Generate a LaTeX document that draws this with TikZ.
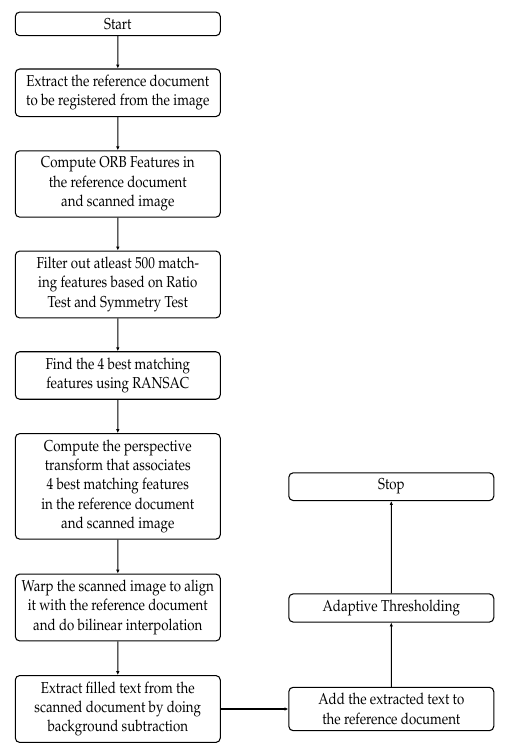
\documentclass[tikz,border=0pt]{standalone}
\usepackage[T1]{fontenc}
\usepackage{mathpazo}
\usetikzlibrary{arrows.meta}

\begin{document}
\begin{tikzpicture}[x=0.2mm, y=0.2mm,
	stepbox/.style={draw, semithick, rounded corners=2.5pt, align=center, xscale=0.84, minimum width=4.88cm, inner ysep=3.5pt, font=\fontsize{9}{11}\selectfont},
	flow/.style={semithick, -{Latex[length=2.2pt,width=2pt]}}]
	\useasboundingbox (0,0) rectangle (517,755);
	\node[stepbox] (start) at (117.8,731.1) {Start};
	\node[stepbox] (extract) at (117.8,662.2) {Extract the reference document\\to be registered from the image};
	\node[stepbox] (orb) at (117.8,571) {Compute ORB Features in\\the reference document\\and scanned image};
	\node[stepbox] (filter) at (117.8,470.5) {Filter out atleast 500 match-\\ing features based on Ratio\\Test and Symmetry Test};
	\node[stepbox] (ransac) at (117.8,379.5) {Find the 4 best matching\\features using RANSAC};
	\node[stepbox] (persp) at (117.8,268.6) {Compute the perspective\\transform that associates\\4 best matching features\\in the reference document\\and scanned image};
	\node[stepbox] (warp) at (117.8,147.5) {Warp the scanned image to align\\it with the reference document\\and do bilinear interpolation};
	\node[stepbox] (filled) at (117.8,46) {Extract filled text from the\\scanned document by doing\\background subtraction};
	\node[stepbox] (add) at (391.3,46) {Add the extracted text to\\the reference document};
	\node[stepbox] (adapt) at (391.3,147) {Adaptive Thresholding};
	\node[stepbox] (stop) at (391.3,268.3) {Stop};

	\draw[flow] (start) edge (extract);
	\draw[flow] (extract) edge (orb);
	\draw[flow] (orb) edge (filter);
	\draw[flow] (filter) edge (ransac);
	\draw[flow] (ransac) edge (persp);
	\draw[flow] (persp) edge (warp);
	\draw[flow] (warp) edge (filled);
	\draw[flow] (filled) edge (add);
	\draw[flow] (add) edge (adapt);
	\draw[flow] (adapt) edge (stop);

\end{tikzpicture}
\end{document}
